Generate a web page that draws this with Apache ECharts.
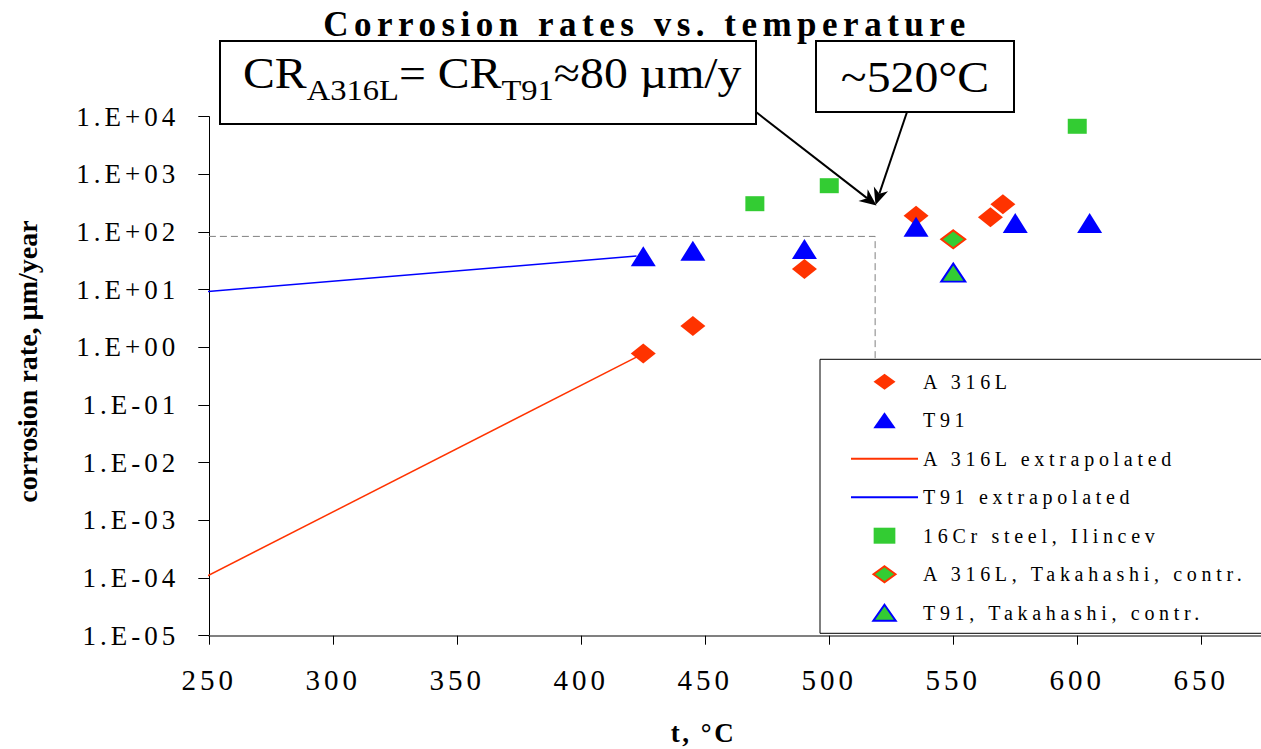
<!DOCTYPE html>
<html>
<head>
<meta charset="utf-8">
<script src="https://cdn.jsdelivr.net/npm/echarts@6/dist/echarts.min.js"></script>
<style>
html,body{margin:0;padding:0;background:#fff;}
#chart{width:1261px;height:749px;}
</style>
</head>
<body>
<div id="chart"></div>
<script>
// ---------- data ----------
const titleText = 'Corrosion rates vs. temperature';
const xTickLabels = ['250','300','350','400','450','500','550','600','650'];
const yTickLabels = ['1.E-05','1.E-04','1.E-03','1.E-02','1.E-01','1.E+00','1.E+01','1.E+02','1.E+03','1.E+04'];
const seriesNames = ['A 316L','T91','A 316L extrapolated','T91 extrapolated','16Cr steel, Ilincev','A 316L, Takahashi, contr.','T91, Takahashi, contr.'];

const a316lT  = [425, 445, 490, 535, 565, 570];
const a316lCR = [0.78, 2.35, 22.9, 192, 180, 303];
const t91T    = [425, 445, 490, 535, 575, 605];
const t91CR   = [38, 47.5, 50.8, 124, 143, 143];
const a316lExtrapT  = [245.3, 425];
const a316lExtrapCR = [8.9e-5, 0.78];
const t91ExtrapT    = [245.2, 422.3];
const t91ExtrapCR   = [9.0, 38.4];
const ilincevT  = [470, 500, 600];
const ilincevCR = [310, 636, 6820];
const a316lTakT  = [550];
const a316lTakCR = [74.8];
const t91TakT  = [550];
const t91TakCR = [19.7];
const guideT  = [245.4, 518.5, 518.5];
const guideCR = [84, 84, 1e-5];

// ---------- helpers ----------
const zip = (xs, ys) => xs.map((x, i) => [x, ys[i]]);
const SERIF = 'Liberation Serif, serif';
const RED = '#FF3300', BLUE = '#0000FF', GREEN = '#33CC33';

function arrow(x1, y1, x2, y2) {
  const dx = x2 - x1, dy = y2 - y1, L = Math.hypot(dx, dy);
  const ux = dx / L, uy = dy / L, nx = -uy, ny = ux;
  const hl = 17, hw = 7.5, notch = 12;
  return [
    {type: 'line', shape: {x1: x1, y1: y1, x2: x2 - ux * notch, y2: y2 - uy * notch},
     style: {stroke: '#000', lineWidth: 2}, z: 100},
    {type: 'polygon', shape: {points: [
      [x2, y2],
      [x2 - ux * hl + nx * hw, y2 - uy * hl + ny * hw],
      [x2 - ux * notch, y2 - uy * notch],
      [x2 - ux * hl - nx * hw, y2 - uy * hl - ny * hw]
    ]}, style: {fill: '#000'}, z: 100}
  ];
}

const diamondIcon  = 'path://M11,0L22,8L11,16L0,8Z';
const triangleIcon = 'path://M10.5,0L21,15L0,15Z';
const squareIcon   = 'path://M0,0L19,0L19,14L0,14Z';

const chart = echarts.init(document.getElementById('chart'), null, {renderer: 'svg'});

const option = {
  animation: false,
  backgroundColor: '#fff',
  grid: {left: 209.3, right: 0, top: 116.7, bottom: 113.3, containLabel: false, outerBoundsMode: 'none'},
  xAxis: {
    type: 'value', min: 250, max: 674.1, interval: 50,
    axisLine: {show: true, lineStyle: {color: '#808080', width: 2}},
    axisTick: {show: true, inside: false, length: 9, lineStyle: {color: '#000', width: 1}},
    axisLabel: {
      fontFamily: SERIF, fontSize: 29, color: '#000', margin: 30, showMaxLabel: true,
      formatter: function (v) { const s = String(Math.round(v)); return xTickLabels.indexOf(s) >= 0 && Math.abs(v - Math.round(v)) < 1e-6 ? s : ''; }
    },
    splitLine: {show: false}
  },
  yAxis: {
    type: 'log', logBase: 10, min: 1e-5, max: 1e4,
    axisLine: {show: true, lineStyle: {color: '#000', width: 1}},
    axisTick: {show: true, inside: false, length: 11, lineStyle: {color: '#000', width: 1}},
    minorTick: {show: false},
    axisLabel: {
      fontFamily: SERIF, fontSize: 27, color: '#000', margin: 30,
      formatter: function (v) { const e = Math.round(Math.log10(v)); return yTickLabels[e + 5] || ''; }
    },
    splitLine: {show: false}
  },
  legend: {
    orient: 'vertical', left: 820, top: 359.3,
    padding: [12.4, 160, 10.6, 30],
    itemWidth: 67, itemHeight: 16, itemGap: 18.5,
    backgroundColor: '#fff', borderColor: '#000', borderWidth: 1,
    symbolKeepAspect: true,
    textStyle: {fontFamily: SERIF, fontSize: 20, color: '#000', lineHeight: 20},
    data: [
      {name: seriesNames[0], icon: diamondIcon},
      {name: seriesNames[1], icon: triangleIcon},
      {name: seriesNames[2], itemStyle: {opacity: 0}},
      {name: seriesNames[3], itemStyle: {opacity: 0}},
      {name: seriesNames[4], icon: squareIcon},
      {name: seriesNames[5], icon: diamondIcon},
      {name: seriesNames[6], icon: triangleIcon}
    ]
  },
  series: [
    {name: seriesNames[0], type: 'scatter', symbol: 'diamond', symbolSize: [25, 20], z: 3,
     itemStyle: {color: RED, opacity: 1}, data: zip(a316lT, a316lCR)},
    {name: seriesNames[1], type: 'scatter', symbol: 'triangle', symbolSize: [25, 20], z: 3,
     itemStyle: {color: BLUE, opacity: 1}, data: zip(t91T, t91CR)},
    {name: seriesNames[2], type: 'line', showSymbol: false, symbol: 'none', clip: false, z: 2,
     lineStyle: {color: RED, width: 1.5}, itemStyle: {color: RED}, data: zip(a316lExtrapT, a316lExtrapCR)},
    {name: seriesNames[3], type: 'line', showSymbol: false, symbol: 'none', clip: false, z: 2,
     lineStyle: {color: BLUE, width: 1.5}, itemStyle: {color: BLUE}, data: zip(t91ExtrapT, t91ExtrapCR)},
    {name: seriesNames[4], type: 'scatter', symbol: 'rect', symbolSize: [19, 15], z: 3,
     itemStyle: {color: GREEN, opacity: 1}, data: zip(ilincevT, ilincevCR)},
    {name: seriesNames[5], type: 'scatter', symbol: 'diamond', symbolSize: [24, 18], z: 3,
     itemStyle: {color: GREEN, borderColor: RED, borderWidth: 2, opacity: 1}, data: zip(a316lTakT, a316lTakCR)},
    {name: seriesNames[6], type: 'scatter', symbol: 'triangle', symbolSize: [24, 18], z: 3,
     itemStyle: {color: GREEN, borderColor: BLUE, borderWidth: 2, opacity: 1}, data: zip(t91TakT, t91TakCR)},
    {name: 'guide', type: 'line', showSymbol: false, symbol: 'none', clip: false, z: 1, silent: true,
     lineStyle: {color: '#808080', width: 1, type: [7, 4]}, data: zip(guideT, guideCR)}
  ],
  graphic: [
    {type: 'text', x: 647, y: 24, z: 100,
     style: {text: titleText, font: 'bold 35px ' + SERIF, fill: '#000',
             align: 'center', verticalAlign: 'middle', textAlign: 'center', textVerticalAlign: 'middle'}},
    {type: 'text', x: 27.5, y: 361.5, rotation: Math.PI / 2, z: 100,
     style: {text: 'corrosion rate, µm/year', font: 'bold 28px ' + SERIF, fill: '#000',
             align: 'center', verticalAlign: 'middle', textAlign: 'center', textVerticalAlign: 'middle'}},
    {type: 'text', x: 703.5, y: 733, z: 100,
     style: {text: 't, °C', font: 'bold 27px ' + SERIF, fill: '#000',
             align: 'center', verticalAlign: 'middle', textAlign: 'center', textVerticalAlign: 'middle'}},
    {type: 'rect', shape: {x: 220, y: 41, width: 536, height: 83}, z: 100,
     style: {fill: '#fff', stroke: '#000', lineWidth: 2}},
    {type: 'text', x: 243, y: 50.85, scaleX: 1.085, z: 101,
     style: {
       text: '{m|CR}{s|A316L}{m|= CR}{s|T91}{m|≈80 µm/y}',
       align: 'left', verticalAlign: 'top', textAlign: 'left', textVerticalAlign: 'top', fill: '#000',
       rich: {
         m: {fontFamily: SERIF, fontSize: 44, lineHeight: 44, fill: '#000', color: '#000'},
         s: {fontFamily: SERIF, fontSize: 30, lineHeight: 30, padding: [34, 0, 0, 0], fill: '#000', color: '#000'}
       }
     }},
    {type: 'rect', shape: {x: 816, y: 41, width: 198, height: 71}, z: 100,
     style: {fill: '#fff', stroke: '#000', lineWidth: 2}},
    {type: 'text', x: 915, y: 77.2, scaleX: 1.085, z: 101,
     style: {text: '~520°C', font: '44px ' + SERIF, fill: '#000',
             align: 'center', verticalAlign: 'middle', textAlign: 'center', textVerticalAlign: 'middle'}}
  ].concat(arrow(756, 112, 876.5, 205.5)).concat(arrow(907, 112, 875.5, 205))
};

chart.setOption(option);

// letter-spaced text, as in the reference rendering
function applySpacing() {
  document.querySelectorAll('#chart svg text').forEach(el => {
    const t = el.textContent;
    const fs = parseFloat(getComputedStyle(el).fontSize);
    let sp = null;
    if (t === titleText) sp = 5.5;
    else if (xTickLabels.indexOf(t) >= 0 && Math.abs(fs - 29) < 0.5) sp = 4;
    else if (yTickLabels.indexOf(t) >= 0 && Math.abs(fs - 27) < 0.5) sp = 4;
    else if (seriesNames.indexOf(t) >= 0 && Math.abs(fs - 20) < 0.5) sp = 4.7;
    else if (t === 't, °C') sp = 2.5;
    if (sp !== null) el.style.letterSpacing = sp + 'px';
  });
}
applySpacing();
chart.on('finished', applySpacing);
setTimeout(applySpacing, 50);
</script>
</body>
</html>
